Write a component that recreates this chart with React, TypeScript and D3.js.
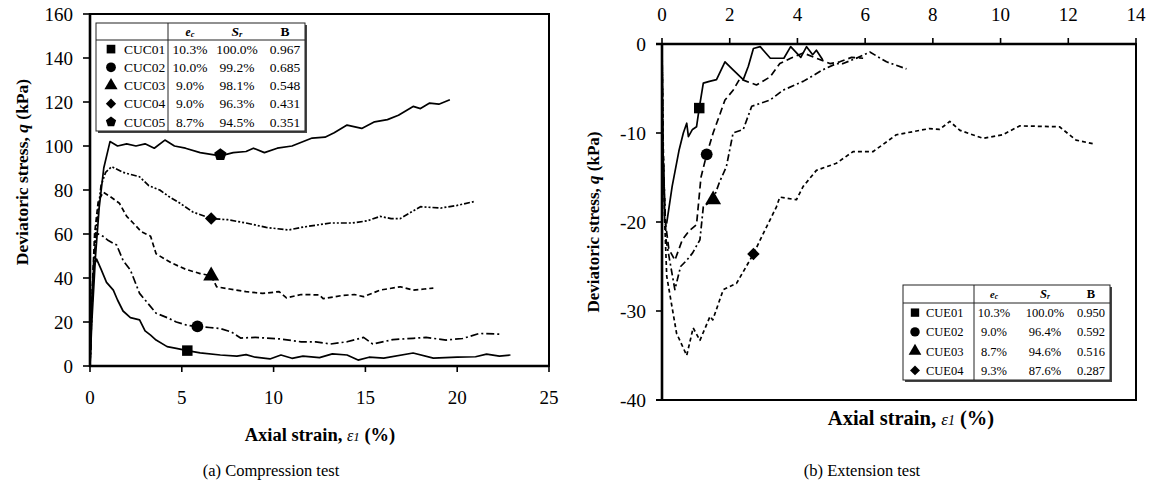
import React from "react";
import * as d3 from "d3";

// ---------- Data ----------
// (a) Compression test: [axial strain %, q kPa]
const cuc01: [number, number][] = [[0,0],[0.1,30],[0.2,45],[0.36,48.6],[0.6,44],[0.9,38],[1.27,34.5],[1.5,30],[1.8,25],[2.2,22],[2.7,21],[3.0,16],[3.3,14],[3.6,11.8],[4.2,8.8],[4.7,8],[5.3,7],[6.0,6],[7.1,5],[8.0,4.5],[8.5,5.2],[9.0,4],[9.8,3.2],[10.4,5],[11,3.5],[11.6,4.5],[12.5,3.8],[13.2,5.5],[14,5],[14.6,2.7],[15.2,4],[16,3.6],[17.6,5.9],[18.7,3.6],[20,4],[21,4.2],[21.6,5.4],[22.3,4.5],[22.9,5]];
const cuc02: [number, number][] = [[0,0],[0.1,25],[0.2,48],[0.36,60.4],[0.7,59],[1.0,57],[1.45,55],[1.8,48],[2.2,43.6],[2.7,33],[3.2,28],[3.6,24],[4.2,22],[4.7,20],[5.3,18.5],[5.85,18],[6.5,17.5],[7.1,17],[7.7,15.5],[8.2,12.7],[9,13],[10.35,12.3],[11.5,11],[12.3,11],[13.1,10],[14,11],[14.9,13],[15.4,10],[16.5,12],[17.6,12.6],[18.3,13],[19.4,11.8],[20.3,12.5],[21.2,14.8],[22.3,14.5]];
const cuc03: [number, number][] = [[0,0],[0.1,30],[0.25,60],[0.45,75],[0.72,79],[1.1,77],[1.6,74],[2.0,68],[2.35,65],[2.8,61],[3.3,59],[3.6,51],[4.0,49],[4.5,46.6],[5.2,44],[6.0,42],[6.6,41],[6.9,36],[7.6,35],[8.5,33.8],[9.4,33],[10.3,33.8],[10.7,31],[11.5,32.5],[12.5,32.3],[12.7,30.6],[13.7,32],[14.4,32.5],[14.9,31.5],[15.8,34.5],[16.9,36],[17.6,34.5],[18.2,35],[18.7,35.4]];
const cuc04: [number, number][] = [[0,0],[0.1,25],[0.3,60],[0.6,82],[0.85,88],[1.18,90.6],[1.8,88],[2.7,86],[3.2,82],[3.8,80],[4.3,77],[4.9,74],[5.6,70],[6.6,67],[7.5,66.5],[8.5,65],[9.6,63],[10.8,61.8],[11.5,63],[12.3,64],[13.1,65],[14.3,65],[15.1,66],[15.8,68],[16.4,67],[16.9,67],[17.5,70],[18.0,72.4],[19.1,71.8],[20,73],[20.9,74.7]];
const cuc05: [number, number][] = [[0,0],[0.1,20],[0.3,50],[0.5,72],[0.75,90],[1.09,102],[1.5,100],[2,101],[2.5,100],[3,101],[3.5,99],[4.08,102.7],[4.6,100],[5.2,99],[6,97],[7.1,95.5],[7.8,97],[8.5,97.5],[8.9,99],[9.5,97],[10.2,99],[11.0,100],[12.1,103.6],[12.8,104],[13.3,106],[14.0,109.5],[14.8,108],[15.5,111],[16.2,112],[16.8,114],[17.6,118],[18.0,117],[18.5,119.5],[19.0,119],[19.6,121]];

// (b) Extension test
const cue01: [number, number][] = [[0,0],[0.02,-10],[0.08,-20],[0.14,-20.1],[0.3,-16],[0.5,-12],[0.63,-10],[0.73,-8.9],[0.78,-10.4],[0.9,-9.6],[1.02,-9.3],[1.1,-7.2],[1.22,-4.4],[1.4,-4.2],[1.61,-4],[1.86,-2],[2.1,-2.9],[2.4,-4],[2.55,-2.5],[2.7,-0.5],[2.9,-0.3],[3.2,-1.6],[3.6,-1.6],[3.8,-0.3],[4.1,-1.5],[4.27,-0.3],[4.45,-1.2],[4.56,-0.7],[4.75,-1.8]];
const cue02: [number, number][] = [[0,0],[0.03,-12],[0.1,-20],[0.2,-23],[0.38,-24.3],[0.6,-22],[0.8,-21],[1.02,-20.3],[1.15,-15],[1.32,-12.4],[1.51,-10],[1.7,-8],[1.86,-6.3],[2.1,-5.2],[2.3,-3.9],[2.5,-4.2],[2.79,-4.6],[3.19,-3.7],[3.48,-2.2],[3.8,-1.6],[4.17,-1],[4.5,-1.5],[4.96,-2.2],[5.25,-2.0],[5.6,-1.5],[5.94,-1.6]];
const cue03: [number, number][] = [[0,0],[0.03,-12],[0.12,-22],[0.38,-27.6],[0.55,-25],[0.73,-24.3],[0.9,-23.5],[1.12,-22],[1.22,-18.3],[1.51,-17.5],[1.7,-15.5],[1.9,-13.8],[2.1,-10],[2.4,-9.6],[2.65,-7],[3.19,-6.3],[3.57,-5.2],[4.17,-4.2],[4.75,-2.9],[5.15,-2.2],[5.35,-2.2],[5.8,-1.5],[6.14,-0.9],[6.63,-2],[7.22,-2.8]];
const cue04: [number, number][] = [[0,0],[0.03,-10],[0.08,-20],[0.14,-26.1],[0.43,-32.5],[0.73,-35],[0.92,-31.9],[1.12,-33.3],[1.42,-30.6],[1.5,-31],[1.81,-27.6],[2.2,-26.9],[2.7,-23.6],[2.99,-21.3],[3.38,-18.3],[3.48,-17.2],[3.97,-17.5],[4.17,-16],[4.56,-14.2],[5.15,-13.4],[5.64,-12.1],[6.23,-12.1],[6.92,-10.2],[7.9,-9.5],[8.2,-9.6],[8.5,-8.7],[8.8,-9.7],[9.48,-10.6],[10.06,-10.2],[10.56,-9.2],[11.74,-9.3],[12.23,-10.8],[12.72,-11.2]];

// Legend tables
const compNames = ["CUC01", "CUC02", "CUC03", "CUC04", "CUC05"];
const compEc = ["10.3%", "10.0%", "9.0%", "9.0%", "8.7%"];
const compSr = ["100.0%", "99.2%", "98.1%", "96.3%", "94.5%"];
const compB = ["0.967", "0.685", "0.548", "0.431", "0.351"];
const compMarkers: [number, number][] = [[5.3, 7], [5.85, 18], [6.6, 41], [6.6, 67], [7.1, 96]];
const compSymbols = ["square", "circle", "triangle", "diamond", "pentagon"];

const extNames = ["CUE01", "CUE02", "CUE03", "CUE04"];
const extEc = ["10.3%", "9.0%", "8.7%", "9.3%"];
const extSr = ["100.0%", "96.4%", "94.6%", "87.6%"];
const extB = ["0.950", "0.592", "0.516", "0.287"];
const extMarkers: [number, number][] = [[1.1, -7.2], [1.32, -12.4], [1.51, -17.5], [2.7, -23.6]];
const extSymbols = ["square", "circle", "triangle", "diamond"];

const compTicksX = [0, 5, 10, 15, 20, 25];
const compTicksY = [0, 20, 40, 60, 80, 100, 120, 140, 160];
const extTicksX = [0, 2, 4, 6, 8, 10, 12, 14];
const extTicksY = [0, -10, -20, -30, -40];

// ---------- Styling ----------
const FONT = "'Liberation Serif', 'Times New Roman', serif";
const compDash = [null, "8,3,2,3", "5,3", "6,2,2,2,2,2", null];
const extDash = [null, "7,4", "7,3,2,3", "4,3"];

function symbolPath(kind: string, size: number): string {
  if (kind === "pentagon") {
    const r = Math.sqrt(size) * 0.62;
    const pts = d3.range(5).map((i) => {
      const a = -Math.PI / 2 + (i * 2 * Math.PI) / 5;
      return [r * Math.cos(a), r * Math.sin(a)];
    });
    return "M" + pts.map((p) => p.join(",")).join("L") + "Z";
  }
  const map: Record<string, d3.SymbolType> = {
    square: d3.symbolSquare,
    circle: d3.symbolCircle,
    triangle: d3.symbolTriangle,
    diamond: (d3 as any).symbolDiamond2 || d3.symbolDiamond,
  };
  return d3.symbol(map[kind], kind === "diamond" ? size * 0.9 : size)() as string;
}

function Legend(props: {
  x: number; y: number; w: number; h: number; headH: number; divX: number;
  cols: number[]; names: string[]; ec: string[]; sr: string[]; b: string[];
  symbols: string[]; fontSize: number; symX: number; nameX: number; symSize: number;
}) {
  const { x, y, w, h, headH, divX, cols, names, ec, sr, b, symbols, fontSize, symX, nameX, symSize } = props;
  const rowH = (h - headH) / names.length;
  return (
    <g fontFamily={FONT} fontSize={fontSize}>
      <rect x={x + 2} y={y + 2} width={w} height={h} fill="#444" />
      <rect x={x} y={y} width={w} height={h} fill="white" stroke="#222" strokeWidth={1} />
      <line x1={x} x2={x + w} y1={y + headH} y2={y + headH} stroke="#222" strokeWidth={1} />
      <line x1={divX} x2={divX} y1={y} y2={y + h} stroke="#222" strokeWidth={1} />
      <text x={cols[0]} y={y + headH / 2 + 4} textAnchor="middle" fontWeight="bold" fontStyle="italic" fontSize={fontSize - 2}>
        e<tspan fontSize={fontSize - 5} dy={1}>c</tspan>
      </text>
      <text x={cols[1]} y={y + headH / 2 + 4} textAnchor="middle" fontWeight="bold" fontStyle="italic">
        S<tspan fontSize={fontSize - 5} dy={1}>r</tspan>
      </text>
      <text x={cols[2]} y={y + headH / 2 + 4} textAnchor="middle" fontWeight="bold">B</text>
      {names.map((n, i) => {
        const cy = y + headH + rowH * (i + 0.5);
        return (
          <g key={n}>
            <path d={symbolPath(symbols[i], symSize)} transform={`translate(${symX},${cy})`} fill="black" />
            <text x={nameX} y={cy + fontSize * 0.35}>{n}</text>
            <text x={cols[0]} y={cy + fontSize * 0.35} textAnchor="middle">{ec[i]}</text>
            <text x={cols[1]} y={cy + fontSize * 0.35} textAnchor="middle">{sr[i]}</text>
            <text x={cols[2]} y={cy + fontSize * 0.35} textAnchor="middle">{b[i]}</text>
          </g>
        );
      })}
    </g>
  );
}

export default function App() {
  // Panel (a)
  const xa = d3.scaleLinear().domain([0, 25]).range([90, 549]);
  const ya = d3.scaleLinear().domain([0, 160]).range([366, 14]);
  const lineA = d3.line<[number, number]>().x((d) => xa(d[0])).y((d) => ya(d[1]));
  const compSeries = [cuc01, cuc02, cuc03, cuc04, cuc05];

  // Panel (b)
  const xb = d3.scaleLinear().domain([0, 14]).range([662, 1136]);
  const yb = d3.scaleLinear().domain([0, -40]).range([44, 400]);
  const lineB = d3.line<[number, number]>().x((d) => xb(d[0])).y((d) => yb(d[1]));
  const extSeries = [cue01, cue02, cue03, cue04];

  return (
    <svg width={1152} height={492} style={{ position: "absolute", left: 0, top: 0, background: "white" }} fontFamily={FONT}>
      {/* ---------- Panel (a) ---------- */}
      <g>
        {compSeries.map((s, i) => (
          <path key={i} d={lineA(s) as string} fill="none" stroke="black" strokeWidth={1.7}
            strokeDasharray={compDash[i] || undefined} strokeLinejoin="round" />
        ))}
        {compMarkers.map((m, i) => (
          <path key={i} d={symbolPath(compSymbols[i], 110)} transform={`translate(${xa(m[0])},${ya(m[1])})`} fill="black" />
        ))}
        {/* frame */}
        <rect x={xa(0)} y={ya(160)} width={xa(25) - xa(0)} height={ya(0) - ya(160)} fill="none" stroke="black" strokeWidth={2} />
        <line x1={xa(0)} x2={xa(0)} y1={ya(160) - 1} y2={ya(0) + 1} stroke="black" strokeWidth={2.6} />
        <line x1={xa(0) - 1} x2={xa(25)} y1={ya(0)} y2={ya(0)} stroke="black" strokeWidth={2.4} />
        {compTicksY.map((t) => (
          <g key={t}>
            <line x1={xa(0) - 7} x2={xa(0)} y1={ya(t)} y2={ya(t)} stroke="black" strokeWidth={1.6} />
            <text x={73} y={ya(t) + 6.5} textAnchor="end" fontSize={19}>{t}</text>
          </g>
        ))}
        {compTicksX.map((t) => (
          <g key={t}>
            <line x1={xa(t)} x2={xa(t)} y1={ya(0)} y2={ya(0) + 6} stroke="black" strokeWidth={1.6} />
            <text x={xa(t)} y={404} textAnchor="middle" fontSize={19}>{t}</text>
          </g>
        ))}
        <text transform="translate(28,172) rotate(-90)" textAnchor="middle" fontWeight="bold" fontSize={17.5}>
          Deviatoric stress, <tspan fontStyle="italic">q</tspan> (kPa)
        </text>
        <text x={320} y={441} textAnchor="middle" fontWeight="bold" fontSize={18.5}>
          Axial strain, <tspan fontStyle="italic" fontWeight="normal" fontSize={16}>ε</tspan><tspan fontStyle="italic" fontWeight="normal" fontSize={13}>1</tspan> (%)
        </text>
        <Legend x={96} y={23} w={209} h={108} headH={17} divX={168} cols={[190, 237, 285]}
          names={compNames} ec={compEc} sr={compSr} b={compB} symbols={compSymbols}
          fontSize={13.5} symX={111} nameX={124} symSize={75} />
        <text x={271} y={476} textAnchor="middle" fontSize={16.5}>(a) Compression test</text>
      </g>

      {/* ---------- Panel (b) ---------- */}
      <g>
        {extSeries.map((s, i) => (
          <path key={i} d={lineB(s) as string} fill="none" stroke="black" strokeWidth={1.7}
            strokeDasharray={extDash[i] || undefined} strokeLinejoin="round" />
        ))}
        {extMarkers.map((m, i) => (
          <path key={i} d={symbolPath(extSymbols[i], 110)} transform={`translate(${xb(m[0])},${yb(m[1])})`} fill="black" />
        ))}
        <rect x={xb(0)} y={yb(0)} width={xb(14) - xb(0)} height={yb(-40) - yb(0)} fill="none" stroke="black" strokeWidth={2} />
        <line x1={xb(0)} x2={xb(0)} y1={yb(0) - 1} y2={yb(-40) + 1} stroke="black" strokeWidth={2.6} />
        <line x1={xb(0) - 6} x2={xb(14)} y1={yb(0)} y2={yb(0)} stroke="black" strokeWidth={2.4} />
        <line x1={xb(0) - 6} x2={xb(14)} y1={yb(-40)} y2={yb(-40)} stroke="black" strokeWidth={2.2} />
        {extTicksY.map((t) => (
          <g key={t}>
            <line x1={xb(0) - 6} x2={xb(0)} y1={yb(t)} y2={yb(t)} stroke="black" strokeWidth={1.6} />
            <text x={646} y={yb(t) + 6.5} textAnchor="end" fontSize={19.5}>{t}</text>
          </g>
        ))}
        {extTicksX.map((t) => (
          <g key={t}>
            <line x1={xb(t)} x2={xb(t)} y1={yb(0) - 6} y2={yb(0)} stroke="black" strokeWidth={1.6} />
            <text x={xb(t)} y={21} textAnchor="middle" fontSize={19}>{t}</text>
          </g>
        ))}
        <text transform="translate(599,222) rotate(-90)" textAnchor="middle" fontWeight="bold" fontSize={17}>
          Deviatoric stress, <tspan fontStyle="italic">q</tspan> (kPa)
        </text>
        <text x={911} y={425} textAnchor="middle" fontWeight="bold" fontSize={20.5}>
          Axial strain, <tspan fontStyle="italic" fontWeight="normal" fontSize={17}>ε</tspan><tspan fontStyle="italic" fontWeight="normal" fontSize={14}>1</tspan> (%)
        </text>
        <Legend x={903} y={285} w={207} h={95} headH={18} divX={974} cols={[994, 1045, 1091]}
          names={extNames} ec={extEc} sr={extSr} b={extB} symbols={extSymbols}
          fontSize={12.5} symX={915} nameX={926} symSize={70} />
        <text x={862} y={476} textAnchor="middle" fontSize={16.5}>(b) Extension test</text>
      </g>
    </svg>
  );
}
